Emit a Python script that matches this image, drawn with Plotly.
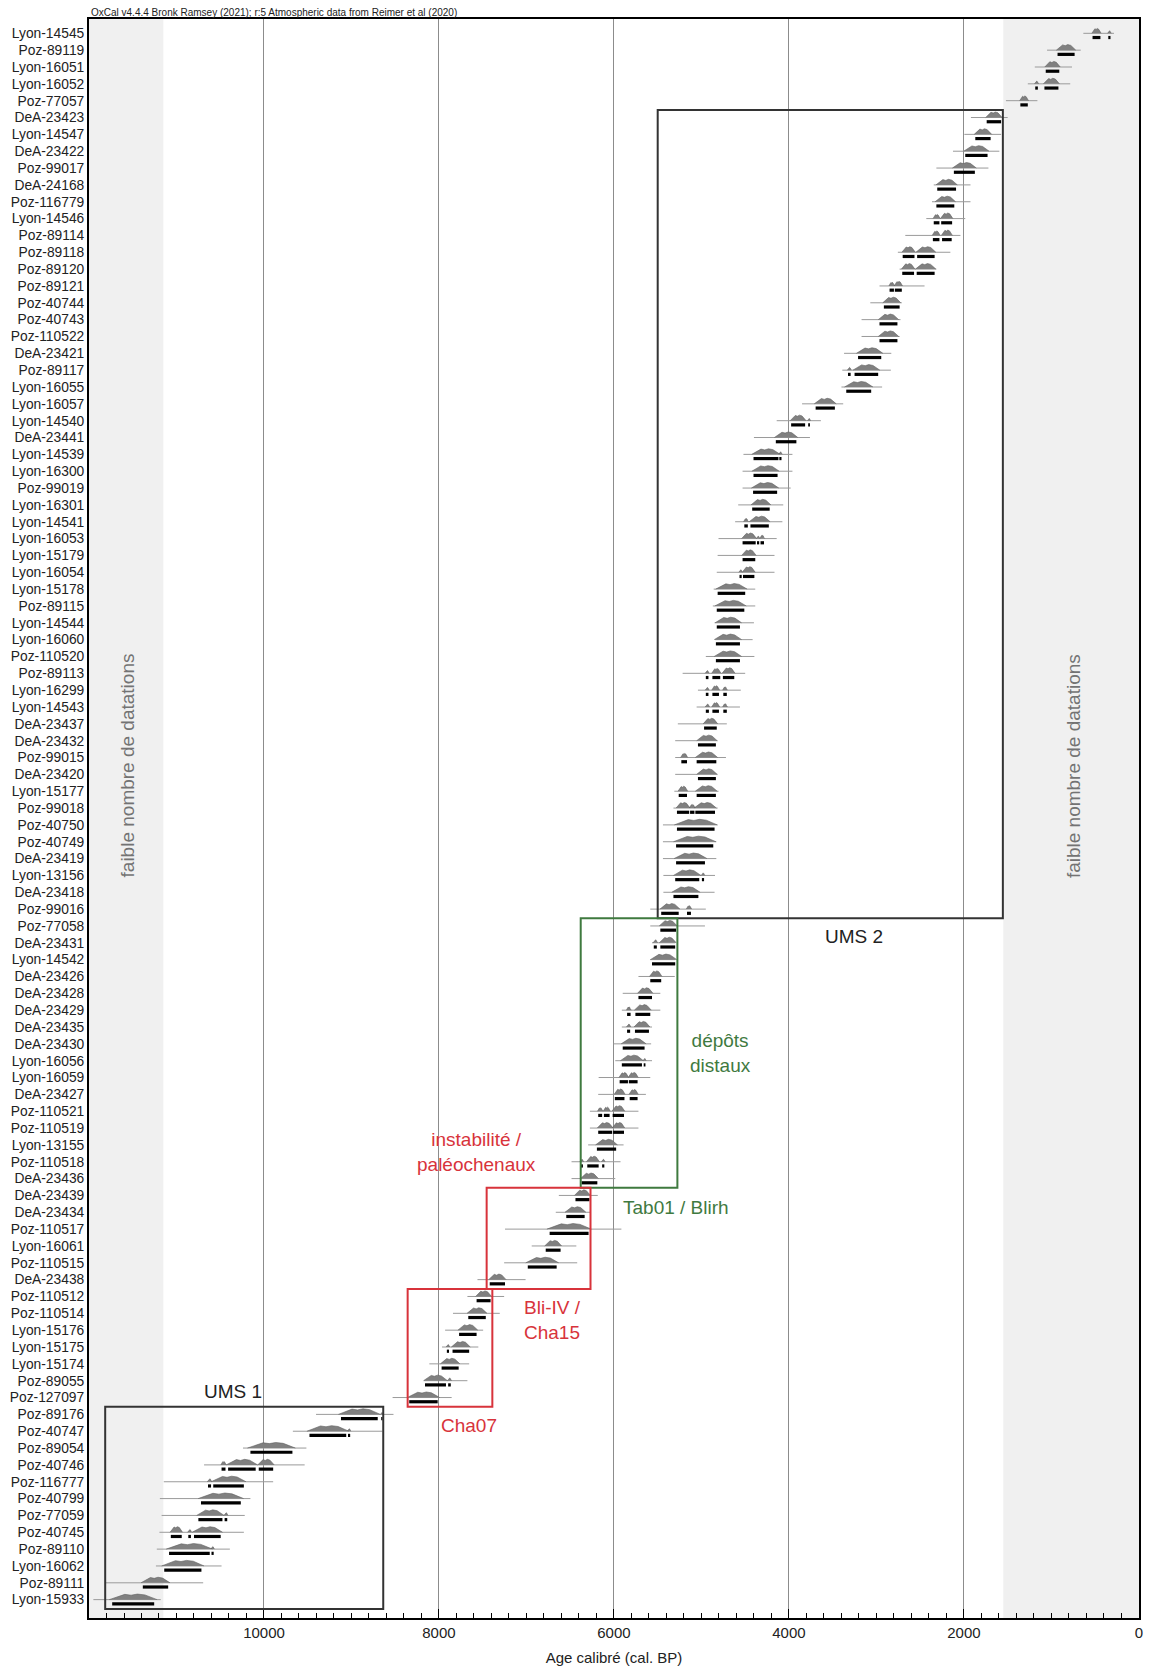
import plotly.graph_objects as go

# sample labels, top to bottom
names = [
    "Lyon-14545", "Poz-89119", "Lyon-16051", "Lyon-16052", "Poz-77057", "DeA-23423",
    "Lyon-14547", "DeA-23422", "Poz-99017", "DeA-24168", "Poz-116779", "Lyon-14546",
    "Poz-89114", "Poz-89118", "Poz-89120", "Poz-89121", "Poz-40744", "Poz-40743",
    "Poz-110522", "DeA-23421", "Poz-89117", "Lyon-16055", "Lyon-16057", "Lyon-14540",
    "DeA-23441", "Lyon-14539", "Lyon-16300", "Poz-99019", "Lyon-16301", "Lyon-14541",
    "Lyon-16053", "Lyon-15179", "Lyon-16054", "Lyon-15178", "Poz-89115", "Lyon-14544",
    "Lyon-16060", "Poz-110520", "Poz-89113", "Lyon-16299", "Lyon-14543", "DeA-23437",
    "DeA-23432", "Poz-99015", "DeA-23420", "Lyon-15177", "Poz-99018", "Poz-40750",
    "Poz-40749", "DeA-23419", "Lyon-13156", "DeA-23418", "Poz-99016", "Poz-77058",
    "DeA-23431", "Lyon-14542", "DeA-23426", "DeA-23428", "DeA-23429", "DeA-23435",
    "DeA-23430", "Lyon-16056", "Lyon-16059", "DeA-23427", "Poz-110521", "Poz-110519",
    "Lyon-13155", "Poz-110518", "DeA-23436", "DeA-23439", "DeA-23434", "Poz-110517",
    "Lyon-16061", "Poz-110515", "DeA-23438", "Poz-110512", "Poz-110514", "Lyon-15176",
    "Lyon-15175", "Lyon-15174", "Poz-89055", "Poz-127097", "Poz-89176", "Poz-40747",
    "Poz-89054", "Poz-40746", "Poz-116777", "Poz-40799", "Poz-77059", "Poz-40745",
    "Poz-89110", "Lyon-16062", "Poz-89111", "Lyon-15933",
]

# full extent of the calibrated distribution (cal. BP), older / younger end
range_old = [
    635, 1050, 1190, 1270, 1520, 1920, 1995, 2125, 2315, 2345, 2365, 2430, 2670, 2755,
    2735, 2965, 3070, 3170, 3170, 3370, 3390, 3400, 3850, 4140, 4400, 4520, 4530, 4530,
    4580, 4615, 4805, 4815, 4825, 4860, 4870, 4850, 4845, 4950, 5215, 5040, 5055, 5270,
    5300, 5300, 5300, 5310, 5320, 5440, 5440, 5440, 5435, 5435, 5585, 5585, 5565, 5585,
    5720, 5900, 5910, 5910, 6005, 5985, 6175, 6180, 6275, 6275, 6295, 6485, 6485, 6630,
    6665, 7245, 6940, 7255, 7560, 7675, 7840, 7930, 7965, 8110, 8170, 8530, 9405, 9670,
    10240, 10685, 11145, 11190, 11170, 11195, 11225, 11235, 11815, 11950,
]
range_young = [
    285, 665, 765, 785, 1160, 1500, 1575, 1595, 1720, 1925, 1925, 1985, 2040, 2155,
    2315, 2450, 2710, 2725, 2735, 2830, 2835, 2935, 3380, 3635, 3760, 3960, 3960, 3980,
    4065, 4075, 4140, 4165, 4165, 4385, 4385, 4400, 4415, 4395, 4500, 4550, 4560, 4710,
    4815, 4720, 4815, 4805, 4815, 4815, 4830, 4830, 4845, 4850, 4950, 4960, 5300, 5300,
    5305, 5470, 5470, 5565, 5575, 5565, 5585, 5635, 5720, 5720, 5890, 5925, 5985, 6185,
    6270, 5915, 6430, 6420, 7010, 7255, 7305, 7495, 7550, 7655, 7675, 7855, 8520, 8645,
    9515, 9535, 9895, 10155, 10220, 10230, 10390, 10485, 10695, 11180,
]

# 95.4% probability ranges (cal. BP)
hpd95 = [
    [(530, 440), (350, 325)], [(930, 735)], [(1065, 910)], [(1185, 1155), (1080, 920)],
    [(1355, 1270)], [(1740, 1575)], [(1870, 1695)], [(1985, 1730)], [(2115, 1875)],
    [(2305, 2090)], [(2315, 2110)], [(2345, 2280), (2260, 2135)],
    [(2355, 2280), (2250, 2140)], [(2700, 2565), (2535, 2335)],
    [(2705, 2570), (2540, 2335)], [(2850, 2800), (2790, 2710)], [(2915, 2735)],
    [(2965, 2760)], [(2965, 2760)], [(3210, 2945)], [(3325, 3295), (3250, 2980)],
    [(3345, 3060)], [(3695, 3475)], [(3975, 3815), (3780, 3760)], [(4150, 3915)],
    [(4405, 4120), (4110, 4085)], [(4405, 4130)], [(4410, 4135)], [(4420, 4220)],
    [(4510, 4470), (4440, 4230)], [(4530, 4380), (4365, 4340), (4325, 4285)],
    [(4530, 4385)], [(4565, 4540), (4525, 4395)], [(4815, 4500)], [(4825, 4510)],
    [(4825, 4560)], [(4835, 4560)], [(4835, 4560)],
    [(4950, 4920), (4875, 4785), (4755, 4625)], [(4950, 4920), (4875, 4800), (4750, 4710)],
    [(4950, 4915), (4875, 4800), (4750, 4710)], [(4970, 4825)], [(5040, 4835)],
    [(5230, 5165), (5055, 4830)], [(5040, 4835)], [(5260, 5165), (5055, 4835)],
    [(5280, 5140), (5130, 5080), (5070, 4845)], [(5280, 4850)], [(5290, 4865)],
    [(5290, 4960)], [(5300, 5025), (4995, 4970)], [(5320, 5035)],
    [(5460, 5260), (5165, 5120)], [(5470, 5290)], [(5545, 5510), (5470, 5300)],
    [(5565, 5300)], [(5585, 5460)], [(5720, 5565)], [(5850, 5810), (5755, 5585)],
    [(5850, 5815), (5760, 5600)], [(5900, 5650)], [(5910, 5680), (5660, 5640)],
    [(5935, 5840), (5830, 5730)], [(5990, 5880), (5820, 5730)],
    [(6180, 6135), (6115, 6050), (6015, 5885)], [(6180, 6020), (6010, 5885)],
    [(6195, 5975)], [(6380, 6355), (6305, 6175), (6135, 6110)], [(6370, 6190)],
    [(6440, 6280)], [(6545, 6335)], [(6735, 6290)], [(6780, 6610)], [(6985, 6655)],
    [(7420, 7245)], [(7570, 7410)], [(7665, 7465)], [(7770, 7570)],
    [(7910, 7885), (7845, 7655)], [(7970, 7775)], [(8160, 7920), (7895, 7865)],
    [(8340, 8015)], [(9120, 8700), (8660, 8645)], [(9480, 9060), (9040, 9015)],
    [(10155, 9675)], [(10485, 10440), (10410, 10095), (10060, 9895)],
    [(10640, 10605), (10580, 10230)], [(10720, 10265)], [(10750, 10475), (10450, 10420)],
    [(11065, 10940), (10865, 10835), (10800, 10495)], [(11085, 10620), (10600, 10575)],
    [(11140, 10715)], [(11385, 11095)], [(11735, 11255)],
]

# interpretive boxes: (older, younger, first row, last row, colour)
boxes = [
    (5500, 1555, 6, 53, "#333333"),
    (6380, 5275, 54, 69, "#3f7a3f"),
    (7455, 6268, 70, 75, "#d8333b"),
    (8358, 7390, 76, 82, "#d8333b"),
    (11815, 8637, 83, 94, "#333333"),
]
box_labels = ["UMS 2", "dépôts<br>distaux", "Tab01 / Blirh", "instabilité /<br>paléochenaux",
              "Bli-IV /<br>Cha15", "Cha07", "UMS 1"]
label_x = [3257, 4787, 5286, 7570, 6707, 7654, 10352]
label_y = [54.6, 61.55, 70.7, 67.4, 77.37, 83.67, 81.65]
label_col = ["#222222", "#3f7a3f", "#3f7a3f", "#d8333b", "#d8333b", "#d8333b", "#222222"]

x_ticks = [10000, 8000, 6000, 4000, 2000, 0]

rows = list(range(1, len(names) + 1))
DENS_H = 0.33   # density height, in rows
BAR_OFF = 0.25  # offset of the 95% bar below the baseline

fig = go.Figure()

# thin lines: full extent
lx, ly = [], []
for r, a, b in zip(rows, range_old, range_young):
    lx += [a, b, None]
    ly += [r, r, None]

# densities and 95% bars
dx, dy, bx, by = [], [], [], []
for r, segs in zip(rows, hpd95):
    for a, b in segs:
        w = a - b
        s = min(1.0, (w / 120.0) ** 0.5)
        h = DENS_H * s
        pad = max(8, 0.07 * w)
        fr = [-pad / w, 0.12, 0.3, 0.45, 0.6, 0.78, 0.9, 1 + pad / w]
        hs = [0, 0.55, 0.95, 0.8, 1.0, 0.85, 0.45, 0]
        dx += [a - f * w for f in fr] + [None]
        dy += [r - h * k for k in hs] + [None]
        bx += [a, b, None]
        by += [r + BAR_OFF, r + BAR_OFF, None]

fig.add_trace(go.Scatter(x=lx, y=ly, mode="lines", line=dict(color="#9a9a9a", width=1),
                         hoverinfo="skip"))
fig.add_trace(go.Scatter(x=dx, y=dy, mode="lines", fill="toself", fillcolor="#808080",
                         line=dict(color="#606060", width=0.6), hoverinfo="skip"))
fig.add_trace(go.Scatter(x=bx, y=by, mode="lines", line=dict(color="#000000", width=3.2),
                         hoverinfo="skip"))

# grey bands: few dates
for x0, x1 in [(12000, 11150), (1550, 0)]:
    fig.add_shape(type="rect", xref="x", yref="paper", x0=x0, x1=x1, y0=0, y1=1,
                  fillcolor="#f0f0f0", line_width=0, layer="below")
for xc in [11560, 740]:
    fig.add_annotation(x=xc, y=44.5, text="faible nombre de datations", textangle=-90,
                       showarrow=False, font=dict(size=19, color="#737373"))

for x0, x1, r0, r1, col in boxes:
    fig.add_shape(type="rect", xref="x", yref="y", x0=x0, x1=x1, y0=r0 - 0.45,
                  y1=r1 + 0.55, line=dict(color=col, width=2), layer="above")

for t, x, y, col in zip(box_labels, label_x, label_y, label_col):
    fig.add_annotation(x=x, y=y, text=t, showarrow=False, font=dict(size=19, color=col))

fig.add_annotation(xref="paper", yref="paper", x=0, y=1, xanchor="left", yanchor="bottom",
                   text="OxCal v4.4.4 Bronk Ramsey (2021); r:5 Atmospheric data from Reimer et al (2020)",
                   showarrow=False, font=dict(size=10, color="#222222"), yshift=-1)

fig.update_xaxes(range=[12000, -1], tickvals=x_ticks, ticktext=[str(v) for v in x_ticks],
                 ticks="inside", ticklen=9, tickcolor="black", tickwidth=1,
                 minor=dict(dtick=200, tick0=0, ticks="inside", ticklen=5, tickcolor="black"),
                 showgrid=True, gridcolor="#8c8c8c", gridwidth=1,
                 showline=True, linecolor="black", linewidth=2, mirror=True,
                 zeroline=False, tickfont=dict(size=15, color="#222222"),
                 title=dict(text="Age calibré (cal. BP)", font=dict(size=15, color="#222222"),
                            standoff=12))
fig.update_yaxes(range=[95.09, 0.15], tickvals=rows, ticktext=names, ticks="",
                 showgrid=False, zeroline=False, showline=True, linecolor="black",
                 linewidth=2, mirror=True, tickfont=dict(size=13.8, color="#222222"))

fig.update_layout(width=1149, height=1672, showlegend=False,
                  margin=dict(l=89, r=6, t=19, b=54),
                  paper_bgcolor="white", plot_bgcolor="white",
                  font=dict(family="Liberation Sans, Arial, sans-serif"))

fig.write_html("out.html", config={"displayModeBar": False},
               post_script="document.body.style.margin='0px';")
